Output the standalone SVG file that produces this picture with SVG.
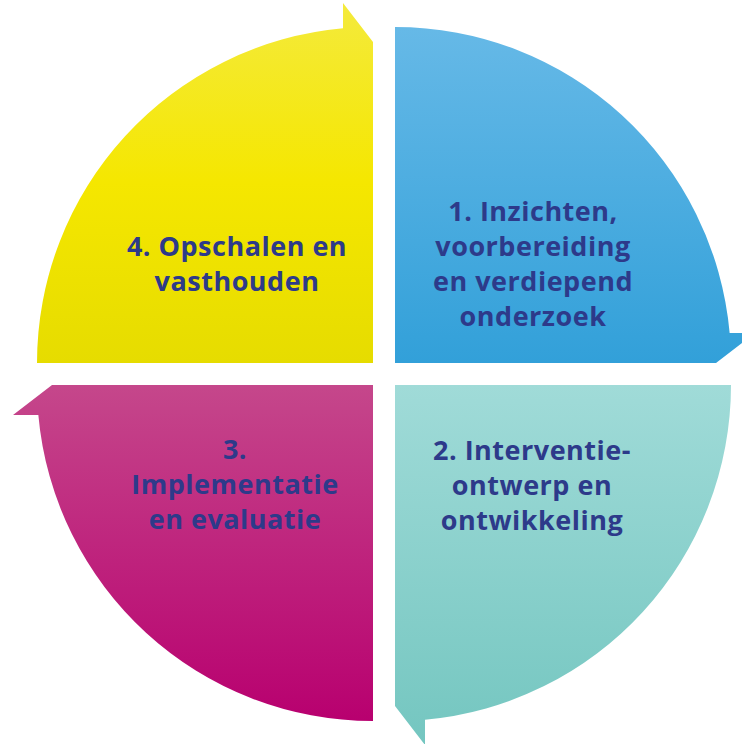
<svg xmlns="http://www.w3.org/2000/svg" width="742" height="744" viewBox="0 0 742 744">
<defs>
<style>
.lbl{font-family:"Open Sans",Lato,"Liberation Sans",sans-serif;font-weight:bold;font-size:27px;letter-spacing:0.5px;fill:#2d3a8a;text-anchor:middle}
</style>
<linearGradient id="gy" x1="0" y1="0" x2="0" y2="1"><stop offset="0" stop-color="#f4ea3c"/><stop offset="0.5" stop-color="#f5e700"/><stop offset="1" stop-color="#e6dc00"/></linearGradient>
<linearGradient id="gb" x1="0" y1="0" x2="0" y2="1"><stop offset="0" stop-color="#66b9e7"/><stop offset="1" stop-color="#32a0d9"/></linearGradient>
<linearGradient id="gt" x1="0" y1="0" x2="0" y2="1"><stop offset="0" stop-color="#a0dbd8"/><stop offset="1" stop-color="#74c6c0"/></linearGradient>
<linearGradient id="gm" x1="0" y1="0" x2="0" y2="1"><stop offset="0" stop-color="#c5478b"/><stop offset="1" stop-color="#b8006f"/></linearGradient>
</defs>
<rect width="742" height="744" fill="#ffffff"/>
<g id="node-4">
<path d="M373,363 L37,363 A336,336 0 0 1 343,28.34 L343,3 L373,42 Z" fill="url(#gy)"/>
<text class="lbl" x="237" y="256">4. Opschalen en</text>
<text class="lbl" x="237" y="291">vasthouden</text>
</g>
<g id="node-1">
<path d="M395,363 L395,27 A336,336 0 0 1 729.66,333 L755,333 L716,363 Z" fill="url(#gb)"/>
<text class="lbl" x="533" y="221">1. Inzichten,</text>
<text class="lbl" x="533" y="256">voorbereiding</text>
<text class="lbl" x="533" y="291">en verdiepend</text>
<text class="lbl" x="533" y="326">onderzoek</text>
</g>
<g id="node-2">
<path d="M395,385 L731,385 A336,336 0 0 1 425,719.66 L425,745 L395,706 Z" fill="url(#gt)"/>
<text class="lbl" x="532" y="460">2. Interventie-</text>
<text class="lbl" x="532" y="495">ontwerp en</text>
<text class="lbl" x="532" y="530">ontwikkeling</text>
</g>
<g id="node-3">
<path d="M373,385 L373,721 A336,336 0 0 1 38.34,415 L13,415 L52,385 Z" fill="url(#gm)"/>
<text class="lbl" x="235" y="459">3.</text>
<text class="lbl" x="235" y="494">Implementatie</text>
<text class="lbl" x="235" y="529">en evaluatie</text>
</g>
<g id="connectors"></g>
</svg>
